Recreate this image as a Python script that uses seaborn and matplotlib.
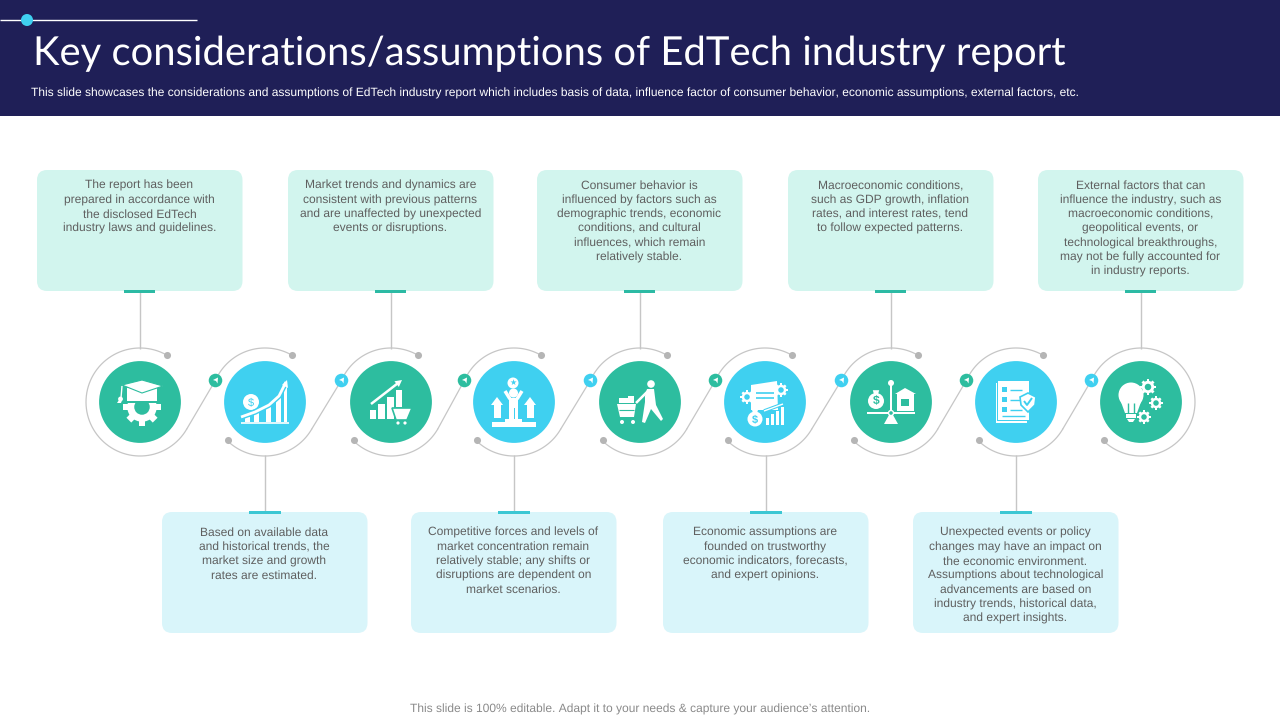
import matplotlib
matplotlib.use("Agg")
import matplotlib.pyplot as plt
import numpy as np
import pandas as pd
import seaborn as sns
from matplotlib.patches import Circle, FancyBboxPatch, Polygon, Rectangle

TEAL = "#2DBD9F"
BLUE = "#3FD0F0"
NAVY = "#1F1F57"
GREY = "#C6C6C6"
TEXT = "#5F5F5F"

title = "Key considerations/assumptions of EdTech industry report"
subtitle = ("This slide showcases the considerations and assumptions of EdTech industry report which "
            "includes basis of data, influence factor of consumer behavior, economic assumptions, "
            "external factors, etc.")
footer = "This slide is 100% editable. Adapt it to your needs & capture your audience\u2019s attention."

top_texts = [
    ["The report has been", "prepared in accordance with", "the disclosed EdTech", "industry laws and guidelines."],
    ["Market trends and dynamics are", "consistent with previous patterns", "and are unaffected by unexpected",
     "events or disruptions."],
    ["Consumer behavior is", "influenced by factors such as", "demographic trends, economic",
     "conditions, and cultural", "influences, which remain", "relatively stable."],
    ["Macroeconomic conditions,", "such as GDP growth, inflation", "rates, and interest rates, tend",
     "to follow expected patterns."],
    ["External factors that can", "influence the industry, such as", "macroeconomic conditions,",
     "geopolitical events, or", "technological breakthroughs,", "may not be fully accounted for",
     "in industry reports."],
]
bottom_texts = [
    ["Based on available data", "and historical trends, the", "market size and growth", "rates are estimated."],
    ["Competitive forces and levels of", "market concentration remain", "relatively stable; any shifts or",
     "disruptions are dependent on", "market scenarios."],
    ["Economic assumptions are", "founded on trustworthy", "economic indicators, forecasts,",
     "and expert opinions."],
    ["Unexpected events or policy", "changes may have an impact on", "the economic environment.",
     "Assumptions about technological", "advancements are based on", "industry trends, historical data,",
     "and expert insights."],
]

node_x = [140, 265, 391, 514, 640, 765, 891, 1016, 1141]
node_kind = ["teal", "blue", "teal", "blue", "teal", "blue", "teal", "blue", "teal"]
badge_kind = ["teal", "blue", "teal", "blue", "teal", "blue", "teal", "blue"]
top_box_left = [37, 288, 537, 788, 1038]
bottom_box_left = [162, 411, 663, 913]

CY = 402
R_OUT = 54

sns.set_theme(style="white")
plt.rcParams["font.family"] = ["Liberation Sans", "DejaVu Sans"]
plt.rcParams["text.hinting"] = "no_hinting"
plt.rcParams["text.hinting_factor"] = 1

fig = plt.figure(figsize=(12.8, 7.2), dpi=100)
ax = fig.add_axes([0, 0, 1, 1])
ax.set_xlim(0, 1280)
ax.set_ylim(720, 0)
ax.axis("off")


def arc(cx, a0, a1):
    t = np.radians(np.linspace(a0, a1, 80))
    return cx + R_OUT * np.cos(t), CY - R_OUT * np.sin(t)


def rect(x0, y0, x1, y1, color="white", z=6):
    ax.add_patch(Rectangle((x0, y0), x1 - x0, y1 - y0, fc=color, ec="none", zorder=z))


def poly(pts, color="white", z=6, ec="none", lw=0):
    ax.add_patch(Polygon(pts, closed=True, fc=color, ec=ec, lw=lw, zorder=z))


def circ(x, y, r, color="white", z=6):
    ax.add_patch(Circle((x, y), r, fc=color, ec="none", zorder=z))


def line(xs, ys, color="white", lw=1.5, z=6):
    ax.plot(xs, ys, color=color, lw=lw, zorder=z, solid_capstyle="butt")


def gear(x, y, r, bg, z=6, teeth=8):
    for a in np.linspace(0, 2 * np.pi, teeth, endpoint=False):
        c, s = np.cos(a), np.sin(a)
        w = r * 0.22
        poly([(x + c * r * 0.7 - s * w, y + s * r * 0.7 + c * w),
              (x + c * r * 1.2 - s * w, y + s * r * 1.2 + c * w),
              (x + c * r * 1.2 + s * w, y + s * r * 1.2 - c * w),
              (x + c * r * 0.7 + s * w, y + s * r * 0.7 - c * w)], z=z)
    circ(x, y, r * 0.95, z=z)
    circ(x, y, r * 0.5, bg, z=z + 0.1)


def arrow(x0, y0, x1, y1, lw=2, head=4.5):
    d = np.array([x1 - x0, y1 - y0], dtype=float)
    d /= np.hypot(*d)
    n = np.array([-d[1], d[0]])
    tip = np.array([x1, y1])
    line([x0, x1 - d[0] * head], [y0, y1 - d[1] * head], lw=lw)
    poly([tip, tip - d * head * 1.5 + n * head * 0.8, tip - d * head * 1.5 - n * head * 0.8])


def money_bag(x, y, r, bg):
    circ(x, y + r * 0.25, r)
    poly([(x - r * 0.4, y - r * 1.1), (x + r * 0.4, y - r * 1.1), (x + r * 0.2, y - r * 0.4), (x - r * 0.2, y - r * 0.4)])
    ax.text(x, y + r * 0.3, "$", color=bg, ha="center", va="center", fontsize=r * 1.1, fontweight="bold", zorder=7)


def icon_cap(x, y, bg):
    gear(x + 2, y + 5, 15.5, bg)
    rect(x - 18, y - 16, x + 22, y + 1, bg, 6.2)
    rect(x - 13, y - 14, x + 17, y - 1, "white", 6.3)
    poly([(x - 18, y - 17), (x + 2, y - 22), (x + 23, y - 16), (x + 2, y - 9)], z=6.5, ec=bg, lw=0.8)
    line([x - 18, x - 19], [y - 16, y - 4], lw=1, z=6.5)
    circ(x - 19.5, y - 3, 2.4, z=6.5)
    poly([(x - 21, y - 2), (x - 18, y - 2), (x - 19, y + 1), (x - 23, y + 1)], z=6.5)


def icon_growth(x, y, bg):
    line([x - 24, x + 24], [y + 21, y + 21], lw=1.2)
    for bx, top, w in zip([-18, -9, 3, 13, 20], [15, 11, 4, -4, -18], [5, 5, 5, 5, 3]):
        rect(x + bx - w / 2, y + top, x + bx + w / 2, y + 20)
    cx = x + np.array([-24, -10, 4, 14, 21])
    cy = y + np.array([15, 10, 3, -6, -20])
    line(cx, cy, bg, 4, 6.2)
    line(cx, cy, "white", 2, 6.3)
    poly([(x + 22, y - 22), (x + 17, y - 17), (x + 23, y - 14)], z=6.4)
    circ(x - 14, y, 8)
    ax.text(x - 14, y, "$", color=bg, ha="center", va="center", fontsize=8, zorder=7)


def icon_cart(x, y, bg):
    rect(x - 21, y + 8, x - 15, y + 17)
    rect(x - 13, y + 2, x - 6, y + 17)
    rect(x - 4, y - 5, x + 3, y + 17)
    rect(x + 5, y - 12, x + 11, y + 5)
    arrow(x - 20, y + 2, x + 11, y - 22, lw=1.8)
    poly([(x + 1, y + 6), (x + 21, y + 6), (x + 16, y + 18), (x + 5, y + 18)], z=6.5, ec=bg, lw=1.2)
    circ(x + 7, y + 21, 1.6)
    circ(x + 14, y + 21, 1.6)


def icon_podium(x, y, bg):
    rect(x - 22, y + 20, x + 22, y + 25)
    rect(x - 9, y + 17, x + 8, y + 20)
    rect(x - 5, y - 4, x + 4, y + 17)
    rect(x - 0.5, y + 6, x + 0.5, y + 17, bg, 6.1)
    circ(x - 0.5, y - 9, 4.5)
    line([x - 9, x - 4], [y - 11, y - 3], lw=2.5)
    line([x + 8, x + 3], [y - 11, y - 3], lw=2.5)
    circ(x - 1, y - 19, 5.5)
    ax.text(x - 1, y - 19, "\u2605", color=bg, ha="center", va="center", fontsize=6,
            family="DejaVu Sans", zorder=7)
    for ax_x in (-17, 16):
        rect(x + ax_x - 3.5, y + 2, x + ax_x + 3.5, y + 16)
        poly([(x + ax_x, y - 5), (x + ax_x - 6, y + 3), (x + ax_x + 6, y + 3)])


def icon_shopper(x, y, bg):
    circ(x + 11, y - 18, 3.8)
    poly([(x + 7, y - 13), (x + 14, y - 13), (x + 16, y + 3), (x + 23, y + 17), (x + 21, y + 19),
          (x + 11, y + 7), (x + 5, y + 21), (x + 2, y + 20), (x + 5, y), (x + 5, y - 6)])
    line([x + 8, x - 4], [y - 11, y + 1], lw=1.8)
    poly([(x - 23, y + 2), (x - 4, y + 2), (x - 6, y + 15), (x - 20, y + 15)])
    line([x - 21, x - 6], [y + 8, y + 8], bg, 0.8, 6.2)
    rect(x - 21, y - 4, x - 11, y + 1)
    rect(x - 12, y - 6, x - 6, y + 1)
    circ(x - 18, y + 20, 2)
    circ(x - 7, y + 20, 2)


def icon_report(x, y, bg):
    gear(x - 18, y - 5, 5.5, bg)
    gear(x + 16, y - 12, 5.5, bg)
    poly([(x - 14, y - 17), (x + 12, y - 21), (x + 13, y + 8), (x - 14, y + 8)], z=6.3)
    line([x - 9, x + 9], [y - 9, y - 9], bg, 1.2, 6.4)
    line([x - 9, x + 9], [y - 4, y - 4], bg, 1.2, 6.4)
    for bx, top in zip([1, 6, 11, 16], [16, 12, 9, 5]):
        rect(x + bx, y + top, x + bx + 3, y + 23, z=6.5)
    line([x - 1, x + 18], [y + 9, y + 2], bg, 2.5, 6.5)
    line([x - 1, x + 18], [y + 9, y + 2], "white", 1, 6.6)
    circ(x - 10, y + 17, 7.5, z=6.7)
    poly([(x - 13, y + 8), (x - 7, y + 8), (x - 8, y + 11), (x - 12, y + 11)], z=6.7)
    ax.text(x - 10, y + 17, "$", color=bg, ha="center", va="center", fontsize=8, fontweight="bold", zorder=7)


def icon_scale(x, y, bg):
    rect(x - 1.2, y - 19, x + 1.2, y + 8)
    circ(x, y - 19, 3)
    rect(x - 24, y + 10, x + 24, y + 12)
    circ(x, y + 11, 3.2, "white", 6.4)
    circ(x, y + 11, 1.8, bg, 6.5)
    poly([(x - 2, y + 13), (x + 2, y + 13), (x + 7, y + 22), (x - 7, y + 22)])
    money_bag(x - 15, y - 3, 8, bg)
    poly([(x + 4, y - 8), (x + 14, y - 14), (x + 25, y - 8)])
    rect(x + 6, y - 8, x + 23, y + 9)
    rect(x + 10, y - 3, x + 18, y + 9, bg, 6.2)
    rect(x + 7, y + 4, x + 21, y + 9, z=6.3)


def icon_checklist(x, y, bg):
    rect(x - 20, y - 19, x + 11, y + 21)
    rect(x - 19, y - 21, x + 13, y + 19, bg, 6.1)
    rect(x - 18, y - 21, x + 13, y + 18, z=6.2)
    for dy in (-15, -5, 5):
        rect(x - 14, y + dy, x - 9, y + dy + 5, bg, 6.3)
        line([x - 6, x + 6], [y + dy + 2.5, y + dy + 2.5], bg, 1, 6.3)
    line([x - 14, x + 9], [y + 14, y + 14], bg, 1, 6.3)
    poly([(x + 4, y - 5), (x + 12, y - 9), (x + 20, y - 5), (x + 19, y + 3), (x + 12, y + 10), (x + 5, y + 3)],
         z=6.5, ec=bg, lw=1.2)
    line([x + 8, x + 11, x + 16], [y - 1, y + 3, y - 4], bg, 1.4, 6.6)


def icon_bulb(x, y, bg):
    circ(x - 10, y - 7, 12.5)
    poly([(x - 20, y), (x, y), (x - 4, y + 11), (x - 16, y + 11)])
    rect(x - 15, y + 12, x - 5, y + 16)
    poly([(x - 14, y + 17), (x - 6, y + 17), (x - 8, y + 20), (x - 12, y + 20)])
    line([x - 13, x - 13], [y + 11, y + 1], bg, 1, 6.2)
    line([x - 7, x - 7], [y + 11, y + 1], bg, 1, 6.2)
    gear(x + 7, y - 15, 6.5, bg, 6.4)
    gear(x + 15, y + 1, 5.5, bg, 6.4)
    gear(x + 3, y + 15, 5.5, bg, 6.4)


# header
rect(0, 0, 1280, 116, NAVY, 1)
line([0, 197], [20, 20], "white", 1, 2)
circ(27, 20, 6, BLUE, 3)
ax.text(33, 65, title, color="white", fontsize=28.6, family=["Lato", "DejaVu Sans"], va="baseline", ha="left", zorder=3)
ax.text(31, 96.5, subtitle, color="white", fontsize=8.6, va="baseline", ha="left", zorder=3)

# text boxes
for left, lines in zip(top_box_left, top_texts):
    ax.add_patch(FancyBboxPatch((left, 170), 205.5, 121, boxstyle="round,pad=0,rounding_size=10",
                                fc="#D2F5EE", ec="none", zorder=2))
    mid = left + 102.5
    line([mid, mid], [291, 349], GREY, 1, 2)
    rect(mid - 15.5, 289.5, mid + 15.5, 292.5, "#2CBAA4", 3)
    for i, txt in enumerate(lines):
        ax.text(mid, 189 + i * 14.3, txt, color=TEXT, fontsize=8.7, ha="center", va="baseline", zorder=3)

for left, lines in zip(bottom_box_left, bottom_texts):
    ax.add_patch(FancyBboxPatch((left, 512), 205.5, 121, boxstyle="round,pad=0,rounding_size=10",
                                fc="#D9F5FA", ec="none", zorder=2))
    mid = left + 102.5
    line([mid, mid], [455, 513], GREY, 1, 2)
    rect(mid - 16, 510.5, mid + 16, 513.5, "#3CC7D3", 3)
    for i, txt in enumerate(lines):
        ax.text(mid, 536 + i * 14.3, txt, color=TEXT, fontsize=8.7, ha="center", va="baseline", zorder=3)

# winding line round the nodes
for i, cx in enumerate(node_x):
    first, last = i == 0, i == len(node_x) - 1
    top_start = 157
    top_end = 61
    if first:
        xs, ys = arc(cx, top_end, 330)
    elif last:
        xs, ys = arc(cx, top_start, -132)
    else:
        xs, ys = arc(cx, top_start, top_end)
        ax.plot(xs, ys, color=GREY, lw=0.9, zorder=2)
        xs, ys = arc(cx, 225, 330)
    ax.plot(xs, ys, color=GREY, lw=0.9, zorder=2)
    if not last:
        end_x, end_y = arc(cx, 330, 330)
        ax.plot([end_x[0], node_x[i + 1] - 50], [end_y[0], CY - 21], color=GREY, lw=0.9, zorder=2)

end_dots = []
for i, cx in enumerate(node_x):
    if i < len(node_x) - 1:
        end_dots.append((cx + 26.5, CY - 47))
    if i > 0:
        end_dots.append((cx - 37, CY + 38))
dots = pd.DataFrame(end_dots, columns=["x", "y"])
sns.scatterplot(data=dots, x="x", y="y", color="#B5B5B5", s=26, linewidth=0, ax=ax, zorder=4, legend=False)

# big circles through seaborn
nodes = pd.DataFrame({"x": node_x, "y": [CY] * len(node_x), "kind": node_kind})
palette = {"teal": TEAL, "blue": BLUE}
sns.scatterplot(data=nodes, x="x", y="y", hue="kind", palette=palette, s=3470, linewidth=0, ax=ax,
                zorder=5, legend=False)

# little arrow badges between nodes
badges = pd.DataFrame({"x": [x - 49.5 for x in node_x[1:]], "y": [CY - 21.5] * 8, "kind": badge_kind})
sns.scatterplot(data=badges, x="x", y="y", hue="kind", palette=palette, s=95, linewidth=0, ax=ax,
                zorder=5, legend=False)
for bx, by in zip(badges["x"], badges["y"]):
    poly([(bx - 2.5, by - 0.5), (bx + 2.5, by - 3), (bx + 2, by + 3), (bx + 0.5, by + 0.5)], z=6)

icons = [icon_cap, icon_growth, icon_cart, icon_podium, icon_shopper, icon_report, icon_scale,
         icon_checklist, icon_bulb]
for cx, kind, draw in zip(node_x, node_kind, icons):
    draw(cx, CY, palette[kind])

ax.text(640, 712.5, footer, color="#8A8A8A", fontsize=8.7, ha="center", va="baseline")

ax.set_xlim(0, 1280)
ax.set_ylim(720, 0)
ax.axis("off")
fig.savefig("out.png", dpi=100)
